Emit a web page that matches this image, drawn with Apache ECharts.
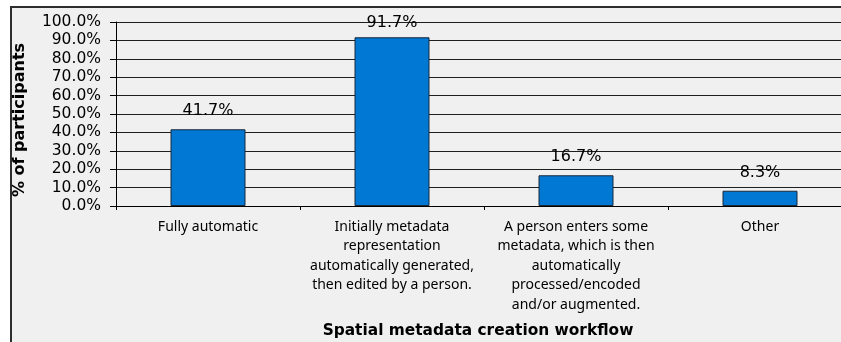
<!DOCTYPE html>
<html>
<head>
<meta charset="utf-8">
<script src="https://cdn.jsdelivr.net/npm/echarts@6/dist/echarts.min.js"></script>
<style>
  html, body { margin: 0; padding: 0; background: #ffffff; }
  #chart { width: 841px; height: 342px; }
</style>
</head>
<body>
<div id="chart"></div>
<script>
// Survey results: how spatial metadata is created
const categories = [
  'Fully automatic',
  'Initially metadata\nrepresentation\nautomatically generated,\nthen edited by a person.',
  'A person enters some\nmetadata, which is then\nautomatically\nprocessed/encoded\nand/or augmented.',
  'Other'
];
const percentages = [41.7, 91.7, 16.7, 8.3];
const yTicks = { min: 0, max: 100, interval: 10 };
const xTitle = 'Spatial metadata creation workflow';
const yTitle = '% of participants';

const chart = echarts.init(document.getElementById('chart'), null, { renderer: 'canvas' });

const barData = percentages.map(v => {
  // keep the tallest label inside the plot frame
  if (v > 90) return { value: v, label: { distance: 6 } };
  return v;
});

chart.setOption({
  animation: false,
  backgroundColor: '#ffffff',
  graphic: [
    {
      type: 'rect',
      z: -10,
      shape: { x: 11, y: 7, width: 900, height: 400 },
      style: { fill: '#f0f0f0', stroke: '#2e2e2e', lineWidth: 2 }
    },
    {
      type: 'text',
      x: 478,
      y: 331,
      style: {
        text: xTitle,
        align: 'center',
        verticalAlign: 'middle',
        font: 'bold 15.4px "DejaVu Sans"',
        fill: '#000000'
      }
    },
    {
      type: 'text',
      x: 20,
      y: 120,
      rotation: Math.PI / 2,
      style: {
        text: yTitle,
        align: 'center',
        verticalAlign: 'middle',
        font: 'bold 16px "DejaVu Sans"',
        fill: '#000000'
      }
    }
  ],
  // the plot runs slightly past the right edge of the canvas
  grid: {
    left: 116, width: 736, top: 22, bottom: 136,
    containLabel: false,
    outerBoundsMode: 'none'
  },
  xAxis: {
    type: 'category',
    data: categories,
    axisLine: { lineStyle: { color: '#000000', width: 1 } },
    axisTick: { show: true, length: 4, alignWithLabel: false, lineStyle: { color: '#000000' } },
    axisLabel: {
      interval: 0,
      margin: 11,
      color: '#000000',
      fontFamily: 'Noto Sans',
      fontSize: 14,
      lineHeight: 19.5,
      align: 'center'
    },
    splitLine: { show: false }
  },
  yAxis: {
    type: 'value',
    min: yTicks.min,
    max: yTicks.max,
    interval: yTicks.interval,
    axisLine: { show: true, lineStyle: { color: '#000000', width: 1 } },
    axisTick: { show: true, length: 6, inside: false, lineStyle: { color: '#000000' } },
    axisLabel: {
      margin: 15,
      color: '#000000',
      fontFamily: 'DejaVu Sans',
      fontSize: 15.5,
      formatter: v => v.toFixed(1) + '%'
    },
    splitLine: { show: true, lineStyle: { color: '#1e1e1e', width: 1 } }
  },
  series: [{
    type: 'bar',
    data: barData,
    barWidth: 75,
    itemStyle: { color: '#0078d4', borderColor: '#1b2838', borderWidth: 1 },
    label: {
      show: true,
      position: 'top',
      distance: 10,
      color: '#000000',
      fontFamily: 'DejaVu Sans',
      fontSize: 16,
      formatter: p => p.value.toFixed(1) + '%'
    }
  }]
});
</script>
</body>
</html>
